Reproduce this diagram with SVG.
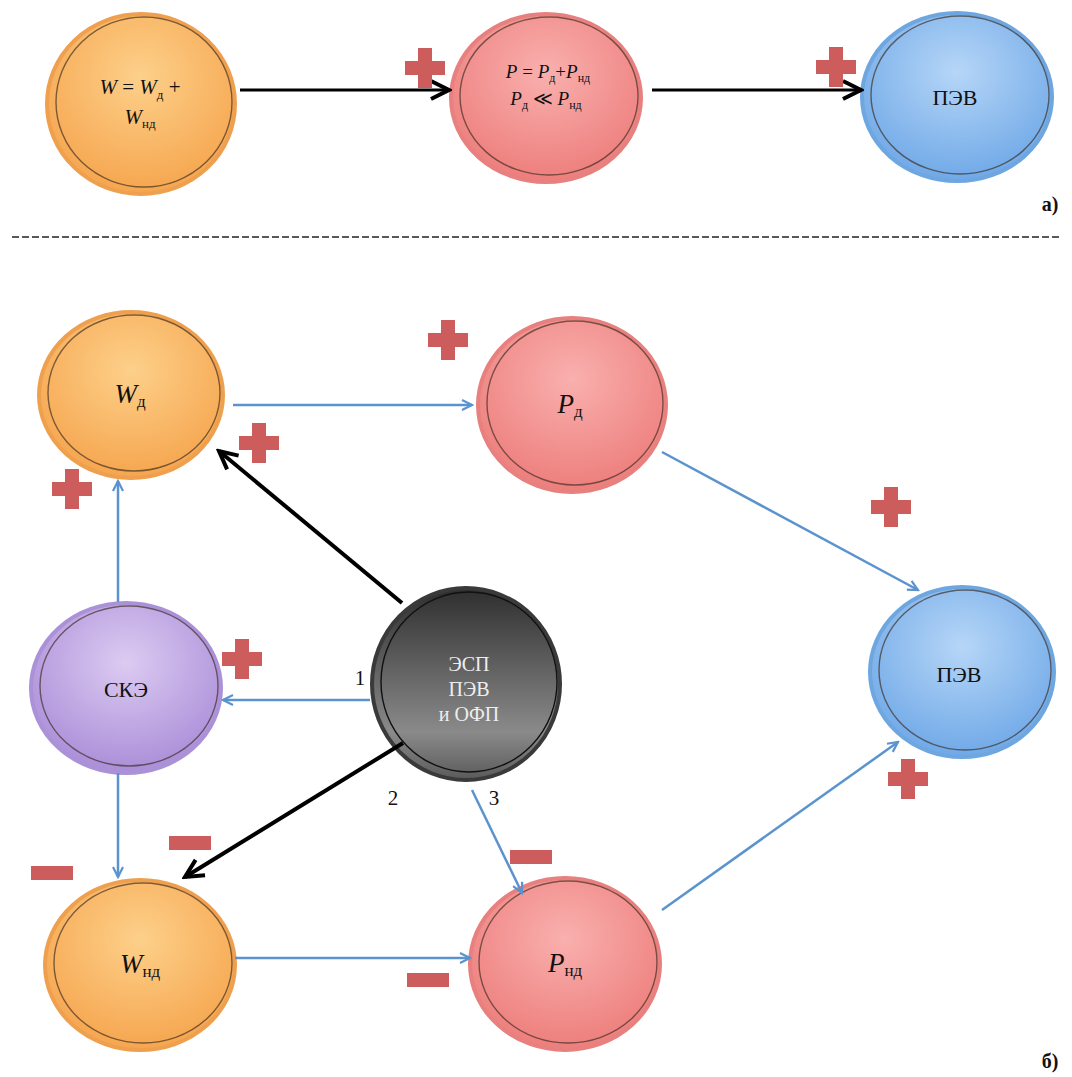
<svg xmlns="http://www.w3.org/2000/svg" width="1072" height="1077" viewBox="0 0 1072 1077">
<defs>
<radialGradient id="gOr" cx="0.5" cy="0.35" r="0.7">
<stop offset="0" stop-color="#fdd08a"/><stop offset="1" stop-color="#f5a24a"/></radialGradient>
<radialGradient id="gRd" cx="0.5" cy="0.35" r="0.7">
<stop offset="0" stop-color="#f9b0ae"/><stop offset="1" stop-color="#ec7a78"/></radialGradient>
<radialGradient id="gBl" cx="0.5" cy="0.35" r="0.7">
<stop offset="0" stop-color="#b6d6f7"/><stop offset="1" stop-color="#6aa5e6"/></radialGradient>
<radialGradient id="gPu" cx="0.5" cy="0.35" r="0.7">
<stop offset="0" stop-color="#dccbf2"/><stop offset="1" stop-color="#a689d6"/></radialGradient>
<linearGradient id="gBk" x1="0" y1="0" x2="0" y2="1">
<stop offset="0" stop-color="#2e2e2e"/><stop offset="0.75" stop-color="#8a8a8a"/><stop offset="1" stop-color="#5a5a5a"/></linearGradient>
<marker id="aBk" viewBox="0 0 24 24" refX="21" refY="12" markerWidth="24" markerHeight="24" markerUnits="userSpaceOnUse" orient="auto">
<path d="M3,3 L21,12 L3,21" fill="none" stroke="#000" stroke-width="4"/></marker>
<marker id="aBu" viewBox="0 0 14 14" refX="12" refY="7" markerWidth="14" markerHeight="14" markerUnits="userSpaceOnUse" orient="auto">
<path d="M2,2 L12,7 L2,12" fill="none" stroke="#5b93cf" stroke-width="2.2"/></marker>
<path id="plus" d="M-7,-20 H7 V-7 H20 V7 H7 V20 H-7 V7 H-20 V-7 H-7 Z"/>
</defs>
<style>
.or{fill:url(#gOr);stroke:#efa04e;stroke-width:4}
.rd{fill:url(#gRd);stroke:#e7807e;stroke-width:4}
.bl{fill:url(#gBl);stroke:#6ea6e0;stroke-width:4}
.pu{fill:url(#gPu);stroke:#ab92d8;stroke-width:4}
.bk{fill:url(#gBk);stroke:#3a3a3a;stroke-width:4}
.in{fill:none;stroke:#3a2a1e;stroke-width:1.4;stroke-opacity:0.65}
.t{font-family:"Liberation Serif","DejaVu Serif",serif;fill:#111;text-anchor:middle}
.i{font-style:italic}
.cb{stroke:#5b93cf;stroke-width:2.5;fill:none;marker-end:url(#aBu)}
.ck{stroke:#000;stroke-width:4;fill:none;marker-end:url(#aBk)}
.ps{fill:#cd5d5d}
</style>

<!-- part a -->
<g id="a-W">
<ellipse class="or" cx="141" cy="104" rx="94" ry="90"/>
<ellipse class="in" cx="144" cy="102" rx="88" ry="85"/>
<text class="t" x="140" y="94" font-size="21"><tspan class="i">W</tspan> = <tspan class="i">W</tspan><tspan font-size="13" dy="5">д</tspan><tspan dy="-5"> +</tspan></text>
<text class="t" x="140" y="124" font-size="21"><tspan class="i">W</tspan><tspan font-size="13" dy="4">нд</tspan></text>
</g>
<g id="a-P">
<ellipse class="rd" cx="546" cy="98" rx="95" ry="84"/>
<ellipse class="in" cx="549" cy="96" rx="89" ry="79"/>
<text class="t" x="548" y="78" font-size="19"><tspan class="i">P</tspan> = <tspan class="i">P</tspan><tspan font-size="12" dy="4">д</tspan><tspan dy="-4">+</tspan><tspan class="i">P</tspan><tspan font-size="12" dy="4">нд</tspan></text>
<text class="t" x="546" y="105" font-size="19"><tspan class="i">P</tspan><tspan font-size="12" dy="4">д</tspan><tspan dy="-4"> ≪ </tspan><tspan class="i">P</tspan><tspan font-size="12" dy="4">нд</tspan></text>
</g>
<g id="a-PEV">
<ellipse class="bl" cx="957" cy="97" rx="95" ry="84"/>
<ellipse class="in" cx="960" cy="95" rx="89" ry="79"/>
<text class="t" x="955" y="105" font-size="22">ПЭВ</text>
</g>
<g id="a-connectors">
<line class="ck" x1="240" y1="90" x2="449" y2="90" style="stroke-width:3"/>
<line class="ck" x1="652" y1="90" x2="861" y2="90" style="stroke-width:3"/>
</g>
<use href="#plus" class="ps" x="425" y="68"/>
<use href="#plus" class="ps" x="836" y="67"/>
<text class="t" x="1050" y="211" font-size="20" font-weight="bold">а)</text>
<line x1="12" y1="237" x2="1060" y2="237" stroke="#222" stroke-width="1.3" stroke-dasharray="7,3"/>

<!-- part b nodes -->
<g id="Wd">
<ellipse class="or" cx="131" cy="395" rx="92" ry="83"/>
<ellipse class="in" cx="134" cy="393" rx="86" ry="78"/>
<text class="t" x="130" y="403" font-size="27"><tspan class="i">W</tspan><tspan font-size="17" dy="4">д</tspan></text>
</g>
<g id="Pd">
<ellipse class="rd" cx="572" cy="405" rx="94" ry="87"/>
<ellipse class="in" cx="575" cy="403" rx="88" ry="82"/>
<text class="t" x="570" y="413" font-size="27"><tspan class="i">P</tspan><tspan font-size="17" dy="4">д</tspan></text>
</g>
<g id="SKE">
<ellipse class="pu" cx="126" cy="688" rx="95" ry="85"/>
<ellipse class="in" cx="129" cy="686" rx="89" ry="80"/>
<text class="t" x="126" y="697" font-size="22">СКЭ</text>
</g>
<g id="ESP">
<ellipse class="bk" cx="466" cy="684" rx="94" ry="96"/>
<ellipse cx="469" cy="682" rx="88" ry="90" fill="none" stroke="#111" stroke-width="1.4"/>
<text class="t" x="469" y="671" font-size="20" style="fill:#eee">ЭСП</text>
<text class="t" x="469" y="696" font-size="20" style="fill:#eee">ПЭВ</text>
<text class="t" x="469" y="721" font-size="20" style="fill:#eee">и ОФП</text>
</g>
<g id="PEV">
<ellipse class="bl" cx="962" cy="672" rx="92" ry="85"/>
<ellipse class="in" cx="965" cy="670" rx="86" ry="80"/>
<text class="t" x="959" y="682" font-size="22">ПЭВ</text>
</g>
<g id="Wnd">
<ellipse class="or" cx="140" cy="965" rx="95" ry="85"/>
<ellipse class="in" cx="143" cy="963" rx="89" ry="80"/>
<text class="t" x="140" y="973" font-size="27"><tspan class="i">W</tspan><tspan font-size="17" dy="4">нд</tspan></text>
</g>
<g id="Pnd">
<ellipse class="rd" cx="565" cy="964" rx="95" ry="86"/>
<ellipse class="in" cx="568" cy="962" rx="89" ry="81"/>
<text class="t" x="565" y="972" font-size="27"><tspan class="i">P</tspan><tspan font-size="17" dy="4">нд</tspan></text>
</g>

<!-- part b connectors -->
<g id="connectors">
<line class="cb" x1="233" y1="405" x2="472" y2="405"/>
<line class="cb" x1="662" y1="452" x2="918" y2="590"/>
<line class="cb" x1="118" y1="602" x2="118" y2="481"/>
<line class="cb" x1="118" y1="773" x2="118" y2="877"/>
<line class="cb" x1="370" y1="700" x2="223" y2="700"/>
<line class="cb" x1="472" y1="790" x2="522" y2="893"/>
<line class="cb" x1="235" y1="958" x2="470" y2="958"/>
<line class="cb" x1="662" y1="910" x2="898" y2="742"/>
<line class="ck" x1="402" y1="603" x2="219" y2="451"/>
<line class="ck" x1="403" y1="743" x2="185" y2="877"/>
</g>
<text class="t" x="360" y="685" font-size="21">1</text>
<text class="t" x="393" y="805" font-size="21">2</text>
<text class="t" x="494" y="805" font-size="21">3</text>

<!-- signs -->
<use href="#plus" class="ps" x="448" y="340"/>
<use href="#plus" class="ps" x="259" y="443"/>
<use href="#plus" class="ps" x="72" y="489"/>
<use href="#plus" class="ps" x="242" y="659"/>
<use href="#plus" class="ps" x="891" y="507"/>
<use href="#plus" class="ps" x="908" y="779"/>
<rect class="ps" x="169" y="836" width="42" height="14"/>
<rect class="ps" x="31" y="866" width="42" height="14"/>
<rect class="ps" x="510" y="850" width="42" height="14"/>
<rect class="ps" x="407" y="973" width="42" height="14"/>
<text class="t" x="1050" y="1068" font-size="20" font-weight="bold">б)</text>
</svg>
